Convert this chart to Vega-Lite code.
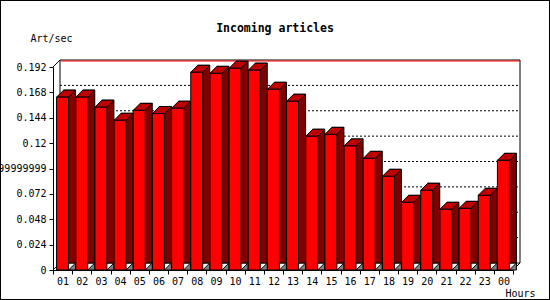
{
  "$schema": "https://vega.github.io/schema/vega-lite/v6.json",
  "width": 550,
  "height": 300,
  "autosize": "none",
  "padding": 0,
  "background": "white",
  "title": {"text": "Incoming articles", "anchor": "middle", "frame": "group", "offset": -43, "baseline": "alphabetic", "font": "DejaVu Sans Mono", "fontSize": 11.5, "fontWeight": "bold", "color": "black"},
  "datasets": {
    "bars": [
      {"hour": "01", "rate": 0.1635},
      {"hour": "02", "rate": 0.1635},
      {"hour": "03", "rate": 0.154},
      {"hour": "04", "rate": 0.1416},
      {"hour": "05", "rate": 0.151},
      {"hour": "06", "rate": 0.148},
      {"hour": "07", "rate": 0.153},
      {"hour": "08", "rate": 0.187},
      {"hour": "09", "rate": 0.186},
      {"hour": "10", "rate": 0.1908},
      {"hour": "11", "rate": 0.189},
      {"hour": "12", "rate": 0.1709},
      {"hour": "13", "rate": 0.1596},
      {"hour": "14", "rate": 0.1265},
      {"hour": "15", "rate": 0.1283},
      {"hour": "16", "rate": 0.1173},
      {"hour": "17", "rate": 0.1056},
      {"hour": "18", "rate": 0.0886},
      {"hour": "19", "rate": 0.064},
      {"hour": "20", "rate": 0.0754},
      {"hour": "21", "rate": 0.0574},
      {"hour": "22", "rate": 0.0583},
      {"hour": "23", "rate": 0.0706},
      {"hour": "00", "rate": 0.1037}
    ],
    "grid": [{"g": 0.024}, {"g": 0.048}, {"g": 0.072}, {"g": 0.096}, {"g": 0.12}, {"g": 0.144}, {"g": 0.168}],
    "corners": [{"c": 0.192}, {"c": 0}],
    "one": [{"k": 1}]
  },
  "resolve": {"axis": {"x": "independent", "y": "independent"}},
  "layer": [
    {
      "data": {"name": "one"},
      "mark": {"type": "rect", "fill": "white", "stroke": "black", "strokeWidth": 1, "xOffset": 7, "x2Offset": 7, "yOffset": -7, "y2Offset": -7},
      "encoding": {
        "x": {"datum": "01", "type": "ordinal", "bandPosition": 0, "axis": null, "scale": {"domain": ["01","02","03","04","05","06","07","08","09","10","11","12","13","14","15","16","17","18","19","20","21","22","23","00"], "range": [53, 513], "paddingInner": 0, "paddingOuter": 0}},
        "x2": {"datum": "00", "bandPosition": 1},
        "y": {"datum": 0.192, "type": "quantitative", "axis": null, "scale": {"domain": [0, 0.192], "range": [270, 67], "nice": false, "zero": false}},
        "y2": {"datum": 0}
      }
    },
    {
      "data": {"name": "grid"},
      "mark": {"type": "rule", "stroke": "black", "strokeWidth": 1, "strokeDash": [2, 2], "xOffset": 7, "x2Offset": 7, "yOffset": -7},
      "encoding": {
        "x": {"datum": "01", "type": "ordinal", "bandPosition": 0, "axis": null},
        "x2": {"datum": "00", "bandPosition": 1},
        "y": {"field": "g", "type": "quantitative", "axis": null}
      }
    },
    {
      "data": {"name": "one"},
      "mark": {"type": "rule", "stroke": "red", "strokeWidth": 1, "xOffset": 8, "x2Offset": 7, "yOffset": -6},
      "encoding": {
        "x": {"datum": "01", "type": "ordinal", "bandPosition": 0, "axis": null},
        "x2": {"datum": "00", "bandPosition": 1},
        "y": {"datum": 0.192, "type": "quantitative", "axis": null}
      }
    },
    {
      "data": {"name": "corners"},
      "mark": {"type": "rule", "stroke": "black", "strokeWidth": 1, "x2Offset": 7, "y2Offset": -7},
      "encoding": {
        "x": {"datum": "01", "type": "ordinal", "bandPosition": 0, "axis": null},
        "x2": {"datum": "01", "bandPosition": 0},
        "y": {"field": "c", "type": "quantitative", "axis": null},
        "y2": {"field": "c"}
      }
    },
    {
      "data": {"name": "one"},
      "mark": {"type": "rule", "stroke": "black", "strokeWidth": 1, "x2Offset": 7, "y2Offset": -7},
      "encoding": {
        "x": {"datum": "00", "type": "ordinal", "bandPosition": 1, "axis": null},
        "x2": {"datum": "00", "bandPosition": 1},
        "y": {"datum": 0, "type": "quantitative", "axis": null},
        "y2": {"datum": 0}
      }
    },
    {
      "data": {"name": "bars"},
      "mark": {"type": "bar", "width": 12, "fill": "#800000", "stroke": "black", "strokeWidth": 1, "xOffset": 7, "yOffset": -7, "y2Offset": 0},
      "encoding": {
        "x": {"field": "hour", "type": "ordinal", "axis": null},
        "y": {"field": "rate", "type": "quantitative", "axis": null}
      }
    },
    {
      "data": {"name": "bars"},
      "mark": {"type": "point", "shape": "M 6 0 L 13 0 L 13 -7 Z", "size": 4, "filled": true, "fill": "#808080", "stroke": "black", "strokeWidth": 1, "opacity": 1},
      "encoding": {
        "x": {"field": "hour", "type": "ordinal", "axis": null},
        "y": {"datum": 0, "type": "quantitative", "axis": null}
      }
    },
    {
      "data": {"name": "bars"},
      "mark": {"type": "point", "shape": "M -6 0 L 6 0 L 13 -7 L 1 -7 Z", "size": 4, "filled": true, "fill": "#c00000", "stroke": "black", "strokeWidth": 1, "opacity": 1},
      "encoding": {
        "x": {"field": "hour", "type": "ordinal", "axis": null},
        "y": {"field": "rate", "type": "quantitative", "axis": null}
      }
    },
    {
      "data": {"name": "bars"},
      "mark": {"type": "bar", "width": 12, "fill": "#ff0000", "stroke": "black", "strokeWidth": 1},
      "encoding": {
        "x": {"field": "hour", "type": "ordinal",
          "axis": {"offset": -30, "zindex": 1, "tickBand": "extent", "tickSize": 4, "labelPadding": 2, "labelAngle": 0, "grid": false,
            "title": "Hours", "titleX": 505, "titleY": 26, "titleAlign": "left", "titleBaseline": "alphabetic"}},
        "y": {"field": "rate", "type": "quantitative",
          "axis": {"offset": -53, "zindex": 1, "values": [0, 0.024, 0.048, 0.072, 0.096, 0.12, 0.144, 0.168, 0.192], "tickSize": 4, "labelPadding": 3, "grid": false, "labelOverlap": false, "labelFlush": false,
            "labelExpr": "datum.value == 0 ? '0' : (abs(datum.value - 0.096) < 1e-9 ? '0.09599999999999999' : format(datum.value, '.3~f'))",
            "title": "Art/sec", "titleAngle": 0, "titleX": -23, "titleY": 41, "titleAlign": "left", "titleBaseline": "alphabetic"}}
      }
    }
  ],
  "config": {
    "view": {"stroke": "black", "strokeWidth": 2},
    "axis": {"labelFont": "DejaVu Sans Mono", "labelFontSize": 10, "labelColor": "black", "tickColor": "black", "domainColor": "black", "titleFont": "DejaVu Sans Mono", "titleFontSize": 10, "titleFontWeight": "normal", "titleColor": "black"}
  }
}
